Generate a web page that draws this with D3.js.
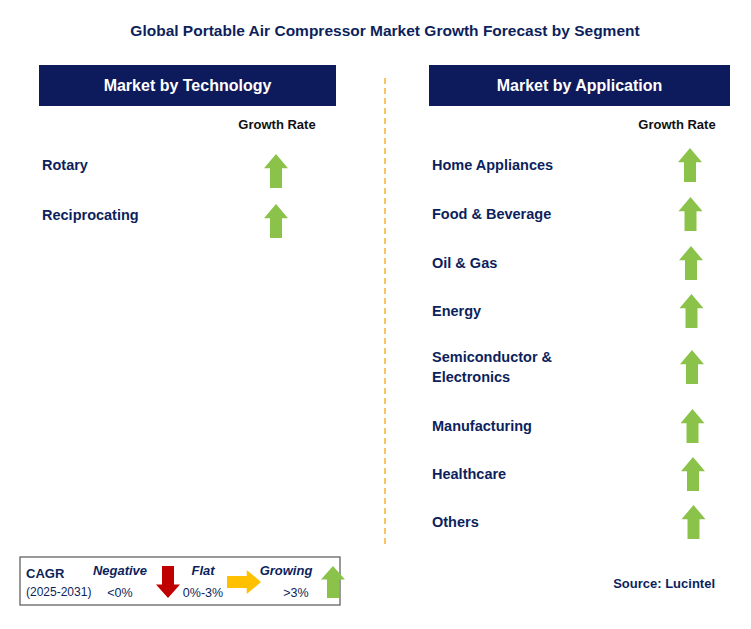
<!DOCTYPE html><html><head><meta charset="utf-8"><script src="https://cdn.jsdelivr.net/npm/d3@7"></script>
<style>body{margin:0;background:#fff}text{font-family:Arial,"Liberation Sans",sans-serif}</style></head><body>
<svg id="c" width="751" height="629"></svg>
<script>
const techCategories=["Rotary","Reciprocating"];
const techGrowth=["up","up"];
const appCategories=["Home Appliances","Food & Beverage","Oil & Gas","Energy","Semiconductor &\nElectronics","Manufacturing","Healthcare","Others"];
const appGrowth=["up","up","up","up","up","up","up","up"];
const legendLabels=["Negative","Flat","Growing"];
const legendRanges=["<0%","0%-3%",">3%"];
const legendDirs=["down","right","up"];

const svg=d3.select("#c");
const navy="#0d1f5c", green="#8bc34a";
svg.append("text").attr("x",385).attr("y",36).attr("text-anchor","middle").attr("font-size",15.5).attr("font-weight","bold").attr("fill",navy).text("Global Portable Air Compressor Market Growth Forecast by Segment");
function header(x,w,t){svg.append("rect").attr("x",x).attr("y",65).attr("width",w).attr("height",41).attr("fill","#0d1a5c");
svg.append("text").attr("x",x+w/2).attr("y",91).attr("text-anchor","middle").attr("fill","#fff").attr("font-size",16).attr("font-weight","bold").text(t);}
header(39,297,"Market by Technology");header(429,301,"Market by Application");
svg.append("line").attr("x1",385).attr("x2",385).attr("y1",78).attr("y2",548).attr("stroke","#f5b335").attr("stroke-width",1.5).attr("stroke-dasharray","6,4");
svg.append("text").attr("x",277).attr("y",129).attr("text-anchor","middle").attr("font-size",13).attr("font-weight","bold").attr("fill","#111").text("Growth Rate");
svg.append("text").attr("x",677).attr("y",129).attr("text-anchor","middle").attr("font-size",13).attr("font-weight","bold").attr("fill","#111").text("Growth Rate");

function arrow(g,cx,cy,dir,col,w,h){
 const hw=w/2,sw=w/4,hh=h*0.42;
 let pts=[[0,-h/2],[hw,-h/2+hh],[sw,-h/2+hh],[sw,h/2],[-sw,h/2],[-sw,-h/2+hh],[-hw,-h/2+hh]];
 const rot={up:0,down:180,right:90}[dir];
 g.append("polygon").attr("points",pts.map(p=>p.join(",")).join(" ")).attr("fill",col).attr("transform",`translate(${cx},${cy}) rotate(${rot})`);
}
const yL=d3.scalePoint().domain(techCategories).range([165,215]);
techCategories.forEach((c,i)=>{svg.append("text").attr("x",42).attr("y",yL(c)+5).attr("font-size",14.5).attr("font-weight","bold").attr("fill",navy).text(c);
 arrow(svg,276,yL(c)+6,techGrowth[i],green,24,34);});
const appY=[165,214,263,311,367,426,474,522];
const yR=d3.scaleOrdinal().domain(appCategories).range(appY);
appCategories.forEach((c,i)=>{const lines=c.split("\n");const y=yR(c);
 lines.forEach((l,j)=>svg.append("text").attr("x",432).attr("y",y+5+(j-(lines.length-1)/2)*20).attr("font-size",14.5).attr("font-weight","bold").attr("fill",navy).text(l));
 arrow(svg,690+Math.min(i,7)*0.5,y,appGrowth[i],green,24,34);});

svg.append("rect").attr("x",20).attr("y",557).attr("width",320).attr("height",48).attr("fill","#fff").attr("stroke","#555").attr("stroke-width",1.2);
svg.append("text").attr("x",26).attr("y",578).attr("font-size",13).attr("font-weight","bold").attr("fill",navy).text("CAGR");
svg.append("text").attr("x",26).attr("y",596).attr("font-size",12).attr("fill",navy).text("(2025-2031)");
const lx=[120,203,286],ax=[168,244,333],cols=["#c00000","#ffc000",green];
legendLabels.forEach((l,i)=>{svg.append("text").attr("x",lx[i]).attr("y",575).attr("text-anchor","middle").attr("font-size",13).attr("font-weight","bold").attr("font-style","italic").attr("fill",navy).text(l);
 svg.append("text").attr("x",lx[i]+(i==2?10:0)).attr("y",597).attr("text-anchor","middle").attr("font-size",12.5).attr("fill",navy).text(legendRanges[i]);
 if(legendDirs[i]=="right")arrow(svg,ax[i],582,"right",cols[i],24,34);else arrow(svg,ax[i],582,legendDirs[i],cols[i],24,32);});
svg.append("text").attr("x",715).attr("y",588).attr("text-anchor","end").attr("font-size",13).attr("font-weight","bold").attr("fill",navy).text("Source: Lucintel");
</script></body></html>
